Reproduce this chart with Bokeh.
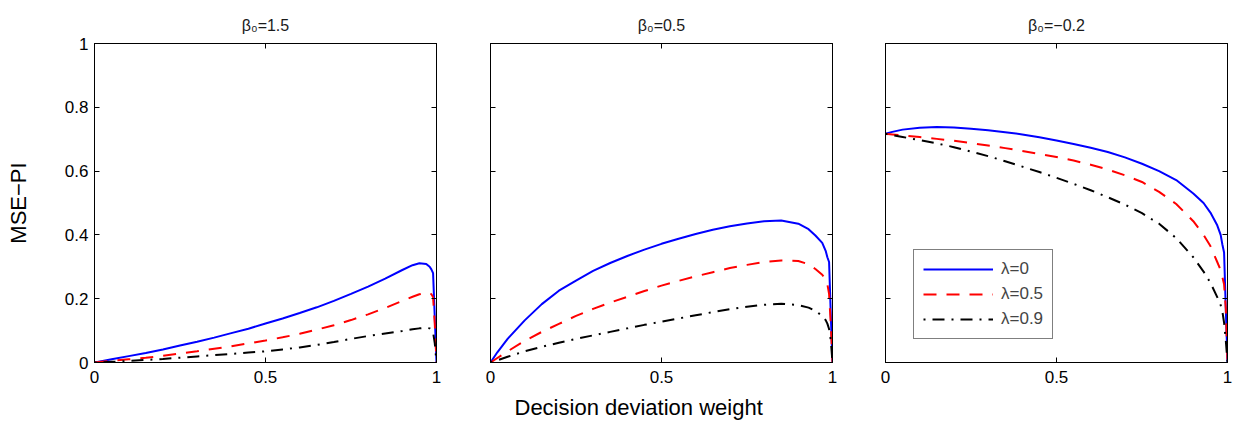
from bokeh.plotting import figure
from bokeh.layouts import row
from bokeh.models import Range1d, FixedTicker, LinearAxis, Legend, LegendItem, Title
from bokeh.embed import file_html
from bokeh.resources import INLINE

# decision deviation weight
x = [0, .02, .05, .1, .15, .2, .25, .3, .35, .4, .45, .5, .55, .6, .65, .7, .75, .8, .85, .9,
     .93, .95, .97, .98, .985, .99, .995, 1.0]

titles = ["β₀=1.5", "β₀=0.5", "β₀=−0.2"]
labels = ["λ=0", "λ=0.5", "λ=0.9"]
xlabel = "Decision deviation weight"
ylabel = "MSE−PI"

# beta0 = 1.5
p1_l0 = [0, .004, .01, .02, .03, .041, .053, .065, .078, .092, .106, .122, .138, .155, .173, .193, .215, .238,
         .263, .29, .305, .311, .309, .3, .292, .28, .14, 0]
p1_l5 = [0, .002, .005, .01, .015, .021, .028, .035, .043, .051, .06, .069, .079, .09, .103, .117, .133, .151,
         .171, .193, .206, .214, .219, .218, .214, .205, .12, 0]
p1_l9 = [0, 0, .002, .005, .008, .011, .015, .019, .023, .027, .031, .035, .041, .047, .055, .064, .074, .083,
         .091, .099, .104, .107, .109, .107, .103, .095, .06, 0]
# beta0 = 0.5
p2_l0 = [0, .032, .074, .132, .183, .225, .257, .287, .312, .334, .354, .372, .388, .403, .416, .427, .436, .443,
         .445, .435, .418, .398, .375, .35, .33, .315, .15, 0]
p2_l5 = [0, .014, .035, .068, .096, .121, .146, .168, .188, .206, .224, .241, .256, .27, .283, .296, .306, .315,
         .32, .318, .308, .293, .275, .26, .245, .215, .12, 0]
p2_l9 = [0, .007, .018, .035, .049, .062, .074, .085, .096, .107, .118, .128, .138, .148, .158, .167, .175, .181,
         .184, .18, .172, .162, .146, .133, .122, .105, .07, 0]
# beta0 = -0.2
p3_l0 = [.717, .723, .73, .736, .738, .737, .733, .728, .722, .715, .706, .696, .685, .673, .66, .643, .623, .6,
         .572, .53, .5, .47, .43, .4, .37, .345, .17, 0]
p3_l5 = [.717, .715, .712, .707, .701, .695, .688, .68, .672, .663, .654, .644, .633, .62, .605, .587, .566, .535,
         .497, .443, .4, .365, .315, .29, .268, .245, .17, 0]
p3_l9 = [.717, .713, .707, .697, .687, .675, .661, .647, .631, .614, .597, .579, .56, .54, .518, .495, .468, .435,
         .39, .33, .285, .25, .205, .18, .16, .125, .07, 0]

series = [(p1_l0, p1_l5, p1_l9), (p2_l0, p2_l5, p2_l9), (p3_l0, p3_l5, p3_l9)]

xticks = [0, 0.5, 1]
xtick_labels = ["0", "0.5", "1"]
yticks = [0, 0.2, 0.4, 0.6, 0.8, 1]
ytick_labels = ["0", "0.2", "0.4", "0.6", "0.8", "1"]

colors = ["#0000ff", "#ff0000", "#000000"]
dashes = ["solid", "13 10", "2 7 12 7"]

FONT = "Liberation Sans"
TICK_FS = "17px"

borders = [(94, 27), (27, 26), (27, 11)]
figs = []
for i in range(3):
    bl, br = borders[i]
    fw = 342 + bl + br
    p = figure(width=fw, height=429, output_backend="svg", toolbar_location=None, title=None,
               x_range=Range1d(0, 1), y_range=Range1d(0, 1),
               min_border_left=bl, min_border_right=br, min_border_top=43, min_border_bottom=67,
               x_axis_location=None, y_axis_location=None)
    p.grid.visible = False
    p.outline_line_color = "black"
    p.outline_line_width = 1
    p.background_fill_color = "white"
    p.border_fill_color = "white"

    for side in ["below", "left", "above", "right"]:
        ax = LinearAxis()
        if side in ("below", "above"):
            ax.ticker = FixedTicker(ticks=xticks)
            ax.major_label_overrides = dict(zip(xticks, xtick_labels))
        else:
            ax.ticker = FixedTicker(ticks=yticks)
            ax.major_label_overrides = dict(zip(yticks, ytick_labels))
        ax.major_tick_in = 5
        ax.major_tick_out = 0
        ax.minor_tick_in = 0
        ax.minor_tick_out = 0
        ax.axis_line_color = "black"
        ax.major_tick_line_color = "black"
        ax.major_label_text_font = FONT
        ax.major_label_text_font_size = TICK_FS
        ax.major_label_text_color = "black"
        show_labels = (side == "below") or (side == "left" and i == 0)
        if not show_labels:
            ax.major_label_text_alpha = 0
            ax.major_label_text_font_size = "1px"
        if side == "below":
            ax.major_label_standoff = 8
        if side == "left":
            ax.major_label_standoff = 6
        if side == "left" and i == 0:
            ax.axis_label = ylabel
            ax.axis_label_text_font = FONT
            ax.axis_label_text_font_size = "22px"
            ax.axis_label_text_font_style = "normal"
            ax.axis_label_text_color = "black"
            ax.axis_label_standoff = 31
        p.add_layout(ax, side)

    # panel title
    p.add_layout(Title(text=titles[i], text_font=FONT, text_font_size="16px", text_font_style="normal",
                       text_color="#1a1a1a", align="center", standoff=19), "above")

    if i == 1:
        p.add_layout(Title(text=xlabel, text_font=FONT, text_font_size="22px", text_font_style="normal",
                           text_color="black", align="left", offset=24, standoff=15), "below")

    renderers = []
    for k in range(3):
        r = p.line(x, series[i][k], line_color=colors[k], line_width=2, line_dash=dashes[k])
        renderers.append(r)

    if i == 2:
        legend = Legend(items=[LegendItem(label=labels[k], renderers=[renderers[k]]) for k in range(3)],
                        location=(28, 23))
        legend.glyph_width = 70
        legend.glyph_height = 20
        legend.label_height = 20
        legend.label_standoff = 8
        legend.padding = 9
        legend.spacing = 5
        legend.margin = 0
        legend.label_text_font = FONT
        legend.label_text_font_size = TICK_FS
        legend.border_line_color = "black"
        legend.border_line_width = 1
        legend.background_fill_alpha = 1
        p.add_layout(legend, "center")
    figs.append(p)

layout = row(*figs, spacing=0)
open("out.html", "w").write(file_html(layout, INLINE))
